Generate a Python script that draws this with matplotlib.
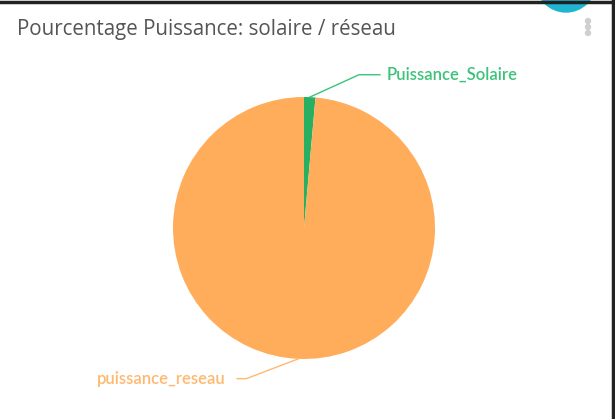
import matplotlib.pyplot as plt
import numpy as np
from matplotlib.patches import Ellipse

# données
labels = ["Puissance_Solaire", "puissance_reseau"]
valeurs = [1.4, 98.6]
couleurs = ["#27b062", "#ffad5a"]
couleurs_txt = ["#3dc27a", "#ffb870"]

W, H = 615, 419
fig = plt.figure(figsize=(W / 100, H / 100), dpi=100)
fig.patch.set_facecolor("white")

# cadre de la carte
fig.add_artist(plt.Line2D([0, 1], [0.996, 0.996], transform=fig.transFigure, color="#222222", lw=2.5))
fig.add_artist(plt.Line2D([0.997, 0.997], [0, 1], transform=fig.transFigure, color="#222222", lw=2.5))
fig.add_artist(Ellipse((566 / W, 1 + 18 / H), 60 / W, 60 / H, transform=fig.transFigure,
                       color="#1fb5d1", clip_on=False))
for yy in [21, 27, 33]:
    fig.add_artist(Ellipse((588 / W, 1 - yy / H), 5 / W, 5 / H, transform=fig.transFigure, color="#cfcfcf"))

fig.text(17 / W, 1 - 30 / H, "Pourcentage Puissance: solaire / réseau", fontsize=14.8,
         color="#555555", family="Open Sans", va="center", ha="left")

ax = fig.add_axes([173 / W, 60 / H, 262 / W, 262 / H])
wedges, _ = ax.pie(valeurs, colors=couleurs, startangle=90, counterclock=False,
                   wedgeprops=dict(linewidth=0))
ax.set_xlim(-1, 1)
ax.set_ylim(-1, 1)
ax.set_aspect("equal")

# étiquettes avec lignes de rappel
for w, lab, c in zip(wedges, labels, couleurs_txt):
    ang = np.deg2rad((w.theta1 + w.theta2) / 2)
    x, y = np.cos(ang), np.sin(ang)
    if x >= 0:
        xt, yt, ha = 0.63, 1.17, "left"
        coude = (0.42, 1.17)
        fin = (0.58, 1.17)
    else:
        xt, yt, ha = -0.6, -1.15, "right"
        coude = (-0.44, -1.15)
        fin = (-0.51, -1.15)
    ax.plot([x, coude[0], fin[0]], [y, coude[1], fin[1]], color=c, lw=1, clip_on=False)
    ax.text(xt, yt, lab, color=c, fontsize=12, family="Lato", ha=ha, va="center", weight="semibold")

fig.savefig("out.png", dpi=100)
